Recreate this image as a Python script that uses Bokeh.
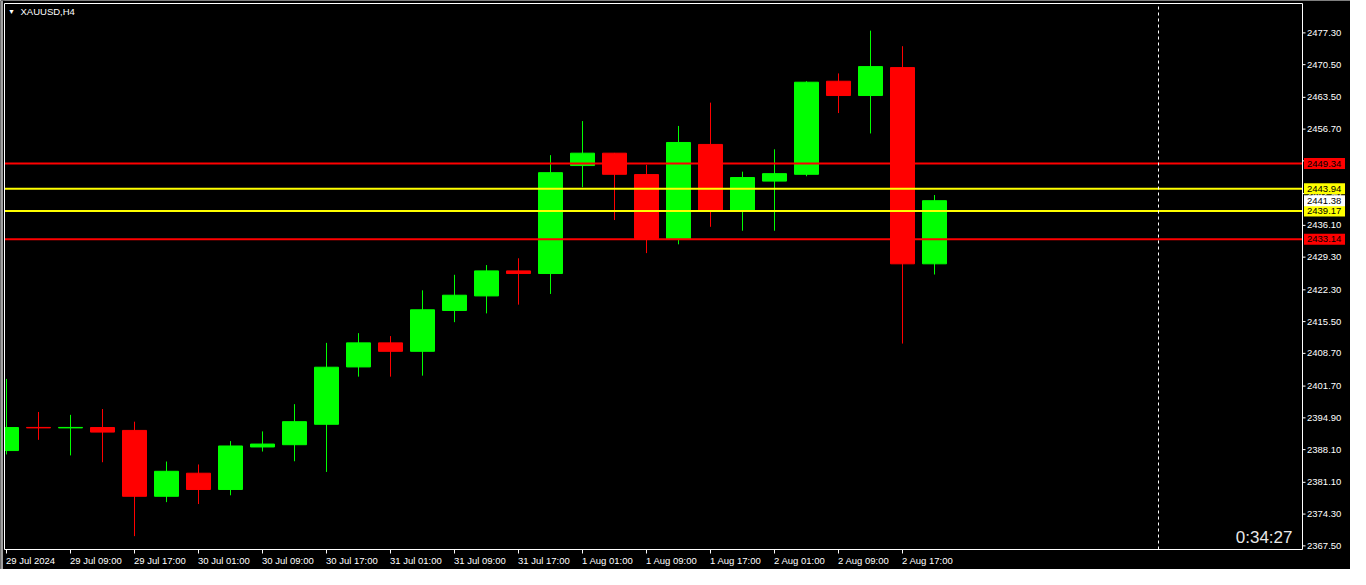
from bokeh.plotting import figure
from bokeh.models import Range1d, Label, ColumnDataSource
from bokeh.core.properties import value
from bokeh.embed import file_html
from bokeh.resources import INLINE

# ---- data (XAUUSD, H4) ----
bar_times = ["29 Jul 01:00", "29 Jul 05:00", "29 Jul 09:00", "29 Jul 13:00", "29 Jul 17:00", "29 Jul 21:00",
             "30 Jul 01:00", "30 Jul 05:00", "30 Jul 09:00", "30 Jul 13:00", "30 Jul 17:00", "30 Jul 21:00",
             "31 Jul 01:00", "31 Jul 05:00", "31 Jul 09:00", "31 Jul 13:00", "31 Jul 17:00", "31 Jul 21:00",
             "1 Aug 01:00", "1 Aug 05:00", "1 Aug 09:00", "1 Aug 13:00", "1 Aug 17:00", "1 Aug 21:00",
             "2 Aug 01:00", "2 Aug 05:00", "2 Aug 09:00", "2 Aug 13:00", "2 Aug 17:00", "2 Aug 21:00"]
opens = [2387.90, 2392.85, 2392.75, 2392.83, 2392.21, 2378.11, 2383.05, 2379.57, 2388.67, 2389.15,
         2393.52, 2405.80, 2410.95, 2409.14, 2417.88, 2421.00, 2426.35, 2425.79, 2448.90, 2451.55,
         2446.97, 2433.08, 2453.42, 2439.32, 2445.57, 2447.03, 2466.95, 2463.89, 2469.87, 2427.87]
highs = [2403.24, 2396.16, 2395.54, 2396.79, 2394.08, 2385.55, 2384.92, 2389.92, 2392.00, 2397.83,
         2410.95, 2413.03, 2412.40, 2422.19, 2425.52, 2427.60, 2429.06, 2451.13, 2458.42, 2451.60,
         2449.05, 2457.38, 2462.37, 2447.59, 2452.38, 2466.95, 2468.62, 2477.78, 2474.45, 2442.59]
lows = [2387.07, 2390.19, 2386.86, 2385.40, 2369.58, 2376.86, 2376.45, 2378.32, 2387.69, 2385.61,
        2383.32, 2403.72, 2403.72, 2403.93, 2415.38, 2417.26, 2419.13, 2421.42, 2444.26, 2437.24,
        2430.16, 2432.04, 2435.79, 2434.95, 2434.95, 2446.61, 2460.14, 2455.77, 2410.80, 2425.58]
closes = [2392.83, 2392.75, 2392.85, 2391.85, 2378.11, 2383.46, 2379.57, 2388.88, 2389.29, 2394.08,
          2405.74, 2410.95, 2409.14, 2418.03, 2421.15, 2426.35, 2425.79, 2447.38, 2451.55, 2447.03,
          2433.29, 2453.84, 2439.32, 2446.34, 2447.17, 2466.74, 2463.89, 2470.08, 2427.87, 2441.38]

x_tick_positions = [0, 2, 4, 6, 8, 10, 12, 14, 16, 18, 20, 22, 24, 26, 28]
x_tick_labels = ["29 Jul 2024", "29 Jul 09:00", "29 Jul 17:00", "30 Jul 01:00", "30 Jul 09:00",
                 "30 Jul 17:00", "31 Jul 01:00", "31 Jul 09:00", "31 Jul 17:00", "1 Aug 01:00",
                 "1 Aug 09:00", "1 Aug 17:00", "2 Aug 01:00", "2 Aug 09:00", "2 Aug 17:00"]
y_tick_values = [2367.50, 2374.30, 2381.10, 2388.10, 2394.90, 2401.70, 2408.70, 2415.50,
                 2422.30, 2429.30, 2436.10, 2442.90, 2449.90, 2456.70, 2463.50, 2470.50, 2477.30]

level_prices = [2449.34, 2443.94, 2439.17, 2433.14]
level_colors = ["#FF0000", "#FFFF00", "#FFFF00", "#FF0000"]
bid_price = 2441.38
separator_bar = 36
timer_text = "0:34:27"
symbol_text = "XAUUSD,H4"

UP = "#00FF00"
DOWN = "#FF0000"
FONT = "Liberation Sans"
FS = "9.5px"

W, H = 1350, 569
BAR_PX = 32                       # pixels per H4 bar
X0 = -6 / BAR_PX
X1 = X0 + W / BAR_PX
Y0, Y1 = 2362.44, 2484.23
PXY = H / (Y1 - Y0)
FRAME_L = X0 + 4 / BAR_PX
FRAME_R = X0 + 1302 / BAR_PX
FRAME_T = Y1 - 3 / PXY
FRAME_B = Y1 - 549 / PXY

idx = list(range(len(opens)))
colors = [UP if c >= o else DOWN for o, c in zip(opens, closes)]
src = ColumnDataSource(dict(x=idx, t=bar_times, o=opens, h=highs, l=lows, c=closes, color=colors))

p = figure(width=W, height=H, output_backend="svg", toolbar_location=None,
           x_range=Range1d(X0, X1), y_range=Range1d(Y0, Y1),
           x_axis_location=None, y_axis_location=None,
           background_fill_color="black", border_fill_color="black",
           min_border=0, min_border_left=0, min_border_right=0, min_border_top=0, min_border_bottom=0)
p.outline_line_color = None
p.grid.visible = False

# candles
p.segment(x0="x", y0="h", x1="x", y1="l", color="color", line_width=1, source=src)
p.vbar(x="x", width=24 / BAR_PX, top="o", bottom="c", fill_color="color", line_color="color",
       line_width=1, source=src)

# horizontal levels (stop at the price scale)
lv = ColumnDataSource(dict(y=level_prices, color=level_colors,
                           x0=[FRAME_L] * len(level_prices), x1=[FRAME_R] * len(level_prices)))
p.segment(x0="x0", y0="y", x1="x1", y1="y", line_color="color", line_width=2, source=lv)

# period separator
p.segment(x0=[separator_bar], y0=[FRAME_B], x1=[separator_bar], y1=[FRAME_T],
          line_color="white", line_width=1, line_dash="3 3")

# mask left of the chart window and the grey window edge
p.quad(left=[X0], right=[FRAME_L], bottom=[Y0], top=[Y1], fill_color="black", line_color=None)
p.quad(left=[X0], right=[X0 + 2.5 / BAR_PX], bottom=[Y0], top=[Y1], fill_color="#A0A0A0", line_color=None)

# chart window border
p.segment(x0=[FRAME_L, FRAME_L, FRAME_R, FRAME_L], y0=[FRAME_T, FRAME_B, FRAME_B, FRAME_T],
          x1=[FRAME_L, FRAME_R, FRAME_R, FRAME_R], y1=[FRAME_B, FRAME_B, FRAME_T, FRAME_T],
          line_color="white", line_width=1)

# price scale (right)
ys = ColumnDataSource(dict(y=y_tick_values, label=[f"{v:.2f}" for v in y_tick_values],
                           x0=[FRAME_R] * len(y_tick_values),
                           x1=[FRAME_R + 3 / BAR_PX] * len(y_tick_values),
                           xt=[FRAME_R + 4.5 / BAR_PX] * len(y_tick_values)))
p.segment(x0="x0", y0="y", x1="x1", y1="y", line_color="white", line_width=1, source=ys)
p.text(x="xt", y="y", text="label", text_color="white", text_font=value(FONT), text_font_size=FS,
       text_align="left", text_baseline="middle", source=ys)

# time scale (bottom)
xs = ColumnDataSource(dict(x=x_tick_positions, label=x_tick_labels,
                           y0=[FRAME_B] * len(x_tick_positions),
                           y1=[FRAME_B - 4 / PXY] * len(x_tick_positions),
                           yt=[FRAME_B - 11 / PXY] * len(x_tick_positions)))
p.segment(x0="x", y0="y0", x1="x", y1="y1", line_color="white", line_width=1, source=xs)
p.text(x="x", y="yt", text="label", text_color="white", text_font=value(FONT), text_font_size=FS,
       text_align="left", text_baseline="middle", x_offset=-0.5, source=xs)

# price tags on the price scale
tag_prices = level_prices + [bid_price]
tag_colors = level_colors + ["#FFFFFF"]
ts = ColumnDataSource(dict(y=tag_prices, color=tag_colors, label=[f"{v:.2f}" for v in tag_prices],
                           xc=[FRAME_R + 22 / BAR_PX] * len(tag_prices),
                           xt=[FRAME_R + 4.5 / BAR_PX] * len(tag_prices)))
p.rect(x="xc", y="y", width=41, height=11, width_units="screen", height_units="screen",
       fill_color="color", line_color=None, source=ts)
p.text(x="xt", y="y", text="label", text_color="black", text_font=value(FONT), text_font_size=FS,
       text_align="left", text_baseline="middle", source=ts)

# symbol caption
p.add_layout(Label(x=FRAME_L + 7 / BAR_PX, y=2481.9, text="▼", text_color="white", text_font=FONT,
                   text_font_size="7px", text_align="center", text_baseline="middle"))
p.add_layout(Label(x=FRAME_L + 16 / BAR_PX, y=2481.9, text=symbol_text, text_color="white",
                   text_font=FONT, text_font_size=FS, text_align="left", text_baseline="middle"))

# countdown timer
p.add_layout(Label(x=FRAME_R - 10 / BAR_PX, y=2369.3, text=timer_text, text_color="#E8E8E8",
                   text_font=FONT, text_font_size="17px", text_align="right",
                   text_baseline="alphabetic"))

open("out.html", "w").write(file_html(p, INLINE))
